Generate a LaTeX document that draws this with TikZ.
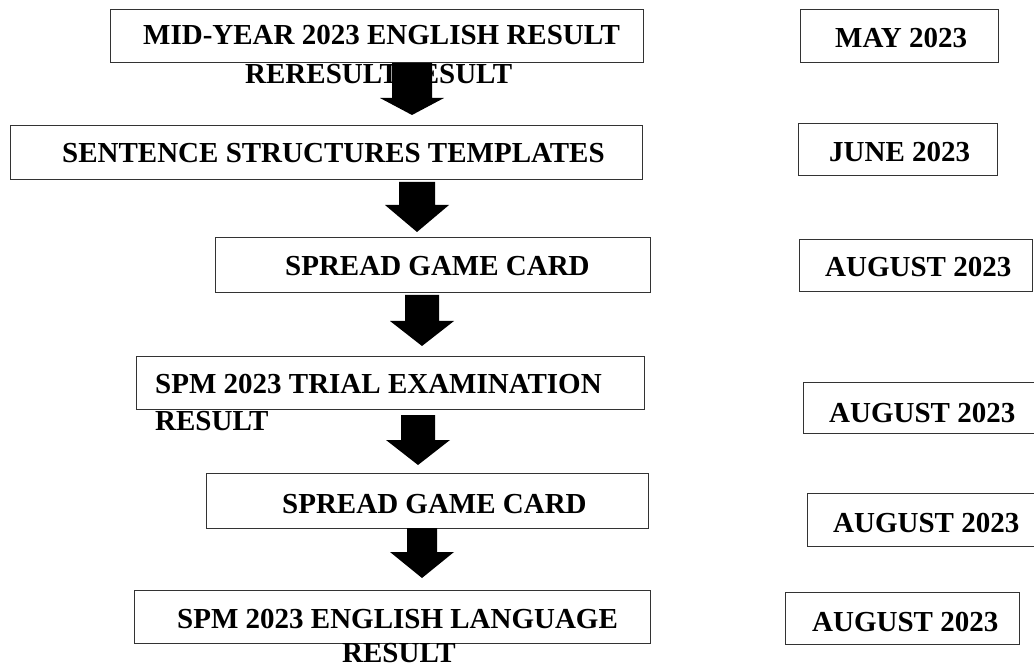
\documentclass[tikz,border=0pt]{standalone}
\usepackage{fontspec}
\setmainfont{Liberation Serif}
\begin{document}
\begin{tikzpicture}[x=1pt,y=-1pt,
  box/.style={draw=black!80,line width=1.2pt,fill=white,inner sep=0pt,anchor=north west},
  lbl/.style={inner sep=0pt,anchor=base west,font=\fontsize{29}{34}\selectfont\bfseries},
  blockarrow/.style={fill=black}]
\clip (0,0) rectangle (1034,668);
\fill[white] (0,0) rectangle (1034,668);
\newcommand\downarr[5]{%
  \fill[blockarrow] ({#1-#5},#2) -- ({#1+#5},#2) -- ({#1+#5},#3) -- ({#1+32},#3) -- (#1,#4) -- ({#1-32},#3) -- ({#1-#5},#3) -- cycle;}
% left column boxes
\node[box,minimum width=533pt,minimum height=53pt] (b1) at (110,9) {};
\node[box,minimum width=632pt,minimum height=54pt] (b2) at (10,125) {};
\node[box,minimum width=435pt,minimum height=55pt] (b3) at (215,237) {};
\node[box,minimum width=508pt,minimum height=53pt] (b4) at (136,356) {};
\node[box,minimum width=442pt,minimum height=55pt] (b5) at (206,473) {};
\node[box,minimum width=516pt,minimum height=53pt] (b6) at (134,590) {};
% right column boxes
\node[box,minimum width=198pt,minimum height=53pt] (r1) at (800,9) {};
\node[box,minimum width=199pt,minimum height=52pt] (r2) at (798,123) {};
\node[box,minimum width=233pt,minimum height=52pt] (r3) at (799,239) {};
\node[box,minimum width=260pt,minimum height=51pt] (r4) at (803,382) {};
\node[box,minimum width=260pt,minimum height=53pt] (r5) at (807,493) {};
\node[box,minimum width=234pt,minimum height=52pt] (r6) at (785,592) {};
% left column texts
\node[lbl] (t1a) at (143,45) {MID-YEAR 2023 ENGLISH RESULT};
\node[lbl] (t1b) at (245,84) {RERESULTRESULT};
\node[lbl] (t2) at (62,163) {SENTENCE STRUCTURES TEMPLATES};
\node[lbl] (t3) at (285,276) {SPREAD GAME CARD};
\node[lbl] (t4a) at (155,393) {SPM 2023 TRIAL EXAMINATION};
\node[lbl] (t4b) at (155,430) {RESULT};
\node[lbl] (t5) at (282,513) {SPREAD GAME CARD};
\node[lbl] (t6a) at (177,628) {SPM 2023 ENGLISH LANGUAGE};
\node[lbl] (t6b) at (342,662) {RESULT};
% right column texts
\node[lbl] (d1) at (835,48) {MAY 2023};
\node[lbl] (d2) at (829,162) {JUNE 2023};
\node[lbl] (d3) at (825,277) {AUGUST 2023};
\node[lbl] (d4) at (829,422) {AUGUST 2023};
\node[lbl] (d5) at (833,532) {AUGUST 2023};
\node[lbl] (d6) at (812,631) {AUGUST 2023};
% block arrows
\downarr{412}{63}{98}{115}{20}
\downarr{417}{182}{205}{232}{18}
\downarr{422}{295}{321}{346}{17}
\downarr{418}{415}{440}{465}{17}
\downarr{422}{528}{552}{578}{15}
\end{tikzpicture}
\end{document}
